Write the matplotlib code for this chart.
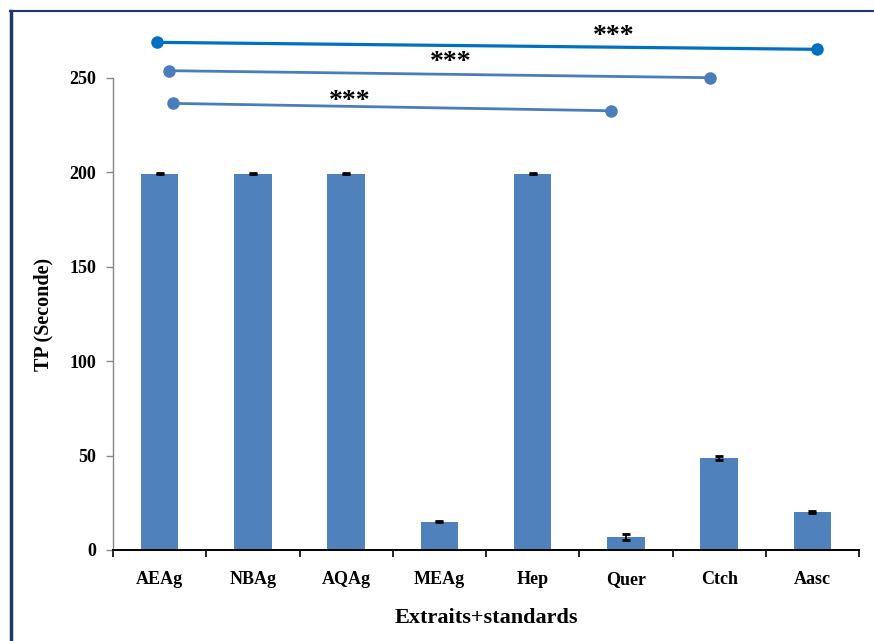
import matplotlib.pyplot as plt
from matplotlib.lines import Line2D
import numpy as np

# temps de prothrombine par extrait / standard
categories = ['AEAg', 'NBAg', 'AQAg', 'MEAg', 'Hep', 'Quer', 'Ctch', 'Aasc']
tp_values = [199, 199, 199, 15, 199, 7, 48.5, 20]
tp_errors = [0.3, 0.3, 0.3, 0.2, 0.3, 1.5, 1.0, 0.5]

# comparaisons significatives (x debut, y debut, x fin, y fin) et position des etoiles
sig_lines = [(-0.03, 268.6, 7.05, 264.9),
             (0.10, 253.6, 5.90, 249.9),
             (0.14, 236.3, 4.84, 232.4)]
sig_stars = [(4.87, 271.5), (3.12, 258.0), (2.04, 237.5)]
sig_colors = ['#0070C0', '#4A7EBB', '#4A7EBB']
sig_widths = [2.3, 2.0, 2.0]

plt.rcParams['font.family'] = ['Liberation Serif', 'DejaVu Serif']
plt.rcParams['font.weight'] = 'bold'

fig = plt.figure(figsize=(8.74, 6.41), dpi=100)
ax = fig.add_axes([113 / 874, 1 - 550 / 641, 746 / 874, 472.5 / 641])

x = np.arange(len(categories))
ax.bar(x, tp_values, width=0.4, color='#4F81BD', zorder=2)
ax.errorbar(x, tp_values, yerr=tp_errors, fmt='none', ecolor='black',
            elinewidth=1.2, capsize=3, capthick=2, zorder=3)

ax.set_xlim(-0.5, len(categories) - 0.5)
ax.set_ylim(0, 250)
ax.set_yticks([0, 50, 100, 150, 200, 250])
ax.set_xticks(x)
ax.set_xticklabels(categories, fontsize=13, fontweight='bold')
ax.set_xticks(np.arange(-0.5, len(categories)), minor=True)
ax.tick_params(axis='x', which='major', length=0, pad=15)
ax.tick_params(axis='x', which='minor', length=5, width=1.2, direction='out', color='black')
ax.tick_params(axis='y', length=5, width=1, color='#868686', labelsize=13, pad=7)
for lab in ax.get_yticklabels():
    lab.set_fontweight('bold')

ax.spines['top'].set_visible(False)
ax.spines['right'].set_visible(False)
ax.spines['left'].set_color('#868686')
ax.spines['left'].set_linewidth(1)
ax.spines['bottom'].set_color('black')
ax.spines['bottom'].set_linewidth(1.4)

# barres de significativite au-dessus du graphique
for (x0, y0, x1, y1), c, lw in zip(sig_lines, sig_colors, sig_widths):
    ax.plot([x0, x1], [y0, y1], color=c, lw=lw, marker='o', markersize=8,
            clip_on=False, zorder=4)
for sx, sy in sig_stars:
    ax.text(sx, sy, '***', ha='center', va='center', fontsize=20,
            fontweight='bold', clip_on=False)

fig.text(43 / 874, 1 - 314 / 641, 'TP (Seconde)', rotation=90, ha='center',
         va='center', fontsize=14.5, fontweight='bold')
fig.text(486 / 874, 1 - 618 / 641, 'Extraits+standards', ha='center',
         va='center', fontsize=16, fontweight='bold')

# cadre du graphique
fig.add_artist(Line2D([10.5 / 874, 10.5 / 874], [0, 1 - 11 / 641],
                      transform=fig.transFigure, color='#1B3A72', lw=2.5))
fig.add_artist(Line2D([10 / 874, 1], [1 - 11 / 641, 1 - 11 / 641],
                      transform=fig.transFigure, color='#1B3A72', lw=1.5))

fig.savefig('out.png', dpi=100)
